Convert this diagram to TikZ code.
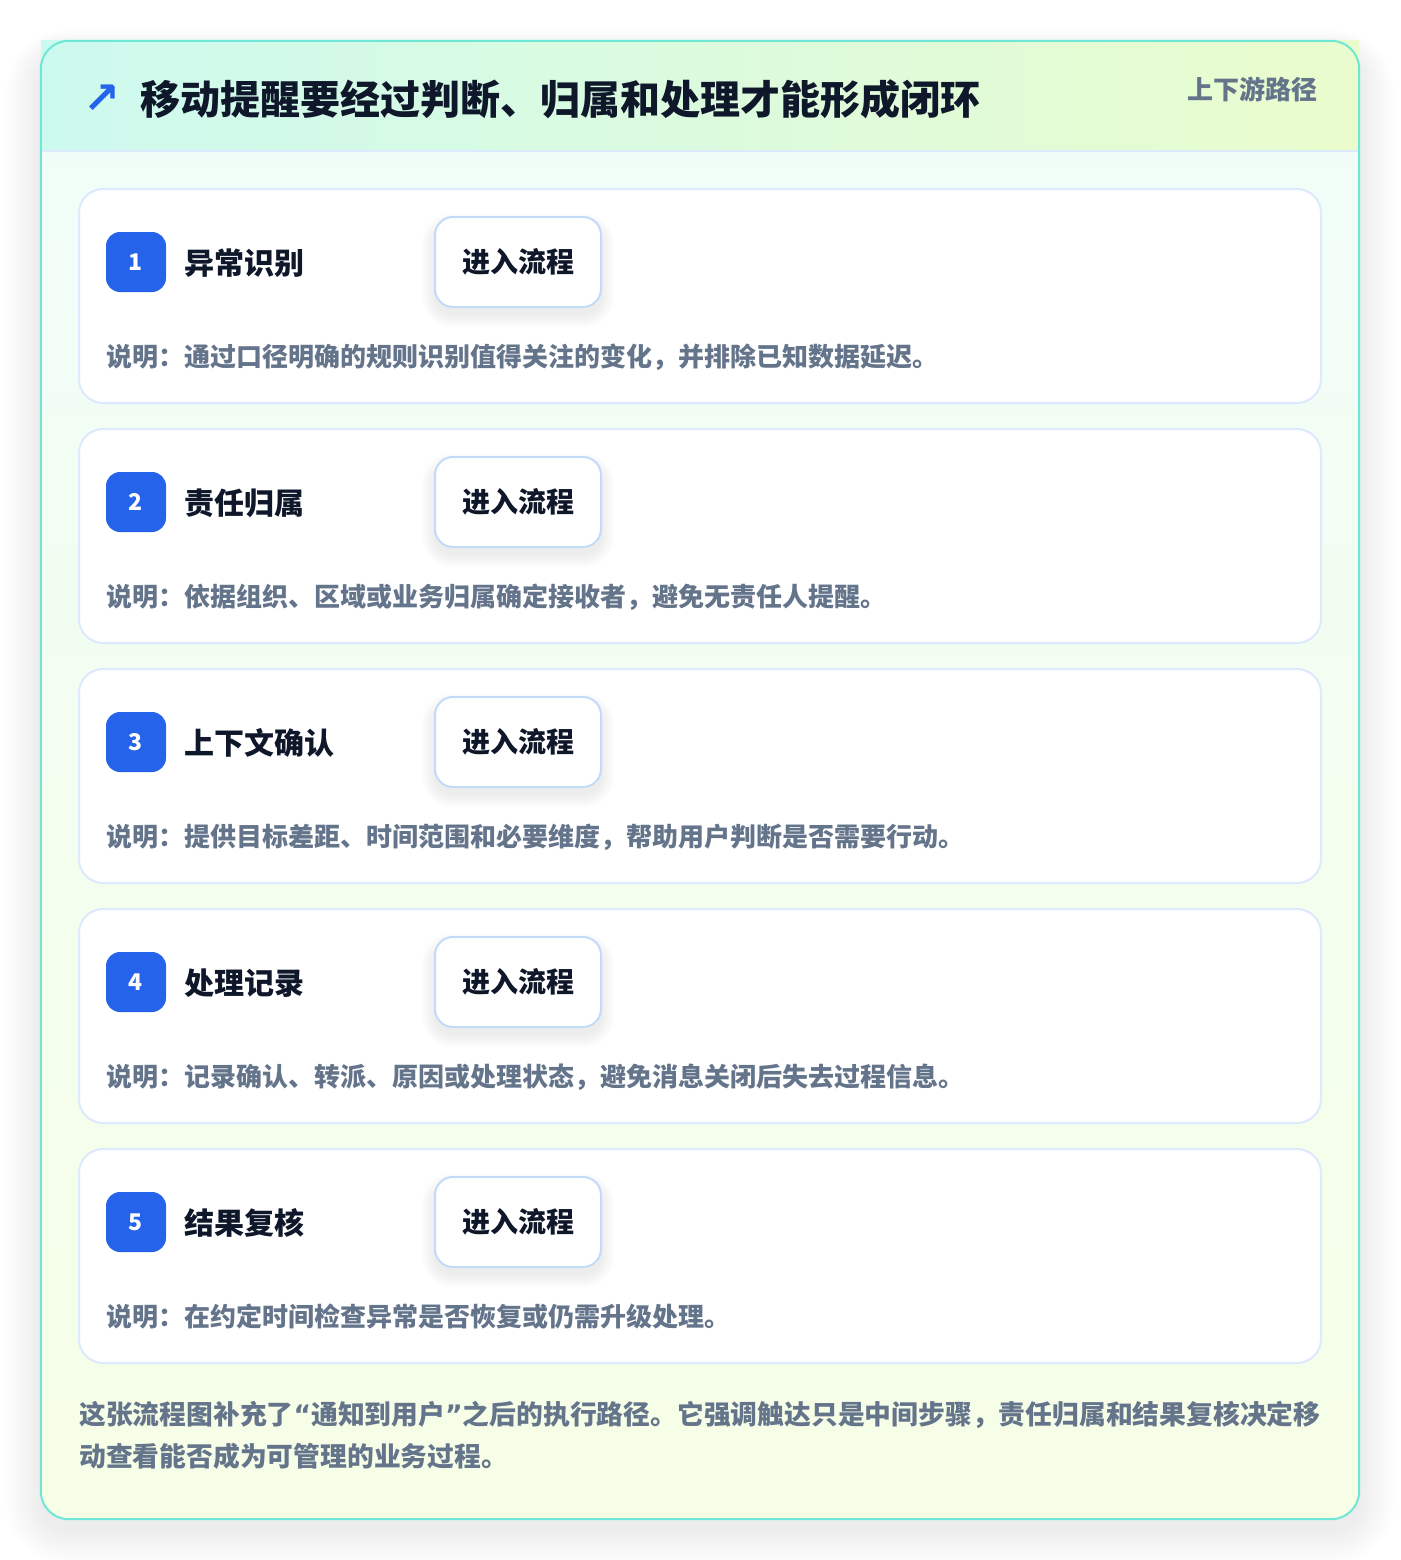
\documentclass[tikz,border=0pt]{standalone}
\usepackage{fontspec}
\setmainfont{Noto Sans CJK SC}
\newfontfamily\symfont{DejaVu Sans}
\usetikzlibrary{positioning}
\definecolor{ink}{HTML}{0F172A}
\definecolor{slate}{HTML}{64748B}
\definecolor{brand}{HTML}{2563EB}
\definecolor{tealline}{HTML}{6EE7D6}
\definecolor{cardline}{HTML}{DBEAFE}
\definecolor{btnline}{HTML}{C3DAF8}
\definecolor{mintA}{HTML}{CDFAEF}
\definecolor{limeA}{HTML}{EAFCCD}
\definecolor{bodytop}{HTML}{F0FDF9}
\definecolor{bodybot}{HTML}{F6FEE6}

\tikzset{
  panelbox/.style={minimum width=1318pt, minimum height=1478pt, rounded corners=28pt,
    top color=bodytop, bottom color=bodybot, inner sep=0pt},
  stepcard/.style={draw=cardline, line width=2pt, fill=white, rounded corners=24pt,
    minimum width=1242pt, minimum height=214pt, inner sep=0pt},
  badge/.style={fill=brand, rounded corners=14pt, minimum size=60pt, inner sep=0pt,
    text=white, font=\fontsize{23}{26}\selectfont\bfseries},
  steptitle/.style={anchor=west, inner sep=0pt, text=ink, font=\fontsize{30}{36}\selectfont\bfseries},
  flowbtn/.style={draw=btnline, line width=2pt, fill=white, rounded corners=18pt,
    minimum width=166pt, minimum height=90pt, inner sep=0pt, text=ink,
    font=\fontsize{28}{34}\selectfont\bfseries},
  stepnote/.style={anchor=west, inner sep=0pt, text=slate, font=\fontsize{26}{30}\selectfont\bfseries},
  softshade/.style={fill=black, opacity=#1},
}
\newcommand{\qmark}[1]{{\symfont #1}}

\begin{document}
\begin{tikzpicture}[x=1pt, y=-1pt]
\useasboundingbox[fill=white] (0,0) rectangle (1400,1560);
% shadow of the panel
\foreach \k in {1,...,18}{
  \fill[softshade=0.0042, rounded corners=28pt+2*\k pt]
    (41-2*\k, 41+10-1.2*\k) rectangle (1359+2*\k, 1519+10+2*\k);
}
% panel
\node[panelbox] (panel) at (700,780) {};
\shade[left color=mintA, right color=limeA] (41,41) rectangle (1359,151);
\coordinate (headL) at (41,151);
\coordinate (headR) at (1359,151);
\draw[cardline, line width=2pt] (headL) -- (headR);
\draw[tealline, line width=2pt, rounded corners=28pt] (panel.north west) rectangle (panel.south east);
% header texts
\node[inner sep=0pt, text=brand, font=\symfont\fontsize{44}{48}\selectfont\bfseries] (icon) at (102,99) {↗};
\node[anchor=west, inner sep=0pt, text=ink, font=\fontsize{40}{46}\selectfont\bfseries] (headline) at (140,99) {移动提醒要经过判断、归属和处理才能形成闭环};
\node[anchor=east, inner sep=0pt, text=slate, font=\fontsize{26}{30}\selectfont\bfseries] (tag) at (1318,89) {上下游路径};
% steps
\foreach \n/\name/\note [count=\i from 0] in {
  1/异常识别/{说明：通过口径明确的规则识别值得关注的变化，并排除已知数据延迟。},
  2/责任归属/{说明：依据组织、区域或业务归属确定接收者，避免无责任人提醒。},
  3/上下文确认/{说明：提供目标差距、时间范围和必要维度，帮助用户判断是否需要行动。},
  4/处理记录/{说明：记录确认、转派、原因或处理状态，避免消息关闭后失去过程信息。},
  5/结果复核/{说明：在约定时间检查异常是否恢复或仍需升级处理。}}{
  \pgfmathsetmacro\top{189+240*\i}
  \node[stepcard] (card\n) at (700,\top+107) {};
  \node[badge] (badge\n) at (136,\top+73) {\n};
  \node[steptitle] (title\n) at (184,\top+74) {\name};
  \foreach \k in {1,...,9}{
    \fill[softshade=0.006, rounded corners=18pt+1.5*\k pt]
      (435-1.5*\k, \top+28+7-1.2*\k) rectangle (601+1.5*\k, \top+118+7+1.5*\k);
  }
  \node[flowbtn] (button\n) at (518,\top+73) {进入流程};
  \node[stepnote] (note\n) at (106,\top+168) {\note};
}
% summary
\node[anchor=west, inner sep=0pt, align=left, text=slate, font=\fontsize{26.8}{42}\selectfont\bfseries] (summary) at (79,1435)
  {这张流程图补充了\qmark{“}通知到用户\qmark{”}之后的执行路径。它强调触达只是中间步骤，责任归属和结果复核决定移\\动查看能否成为可管理的业务过程。};
\end{tikzpicture}
\end{document}
